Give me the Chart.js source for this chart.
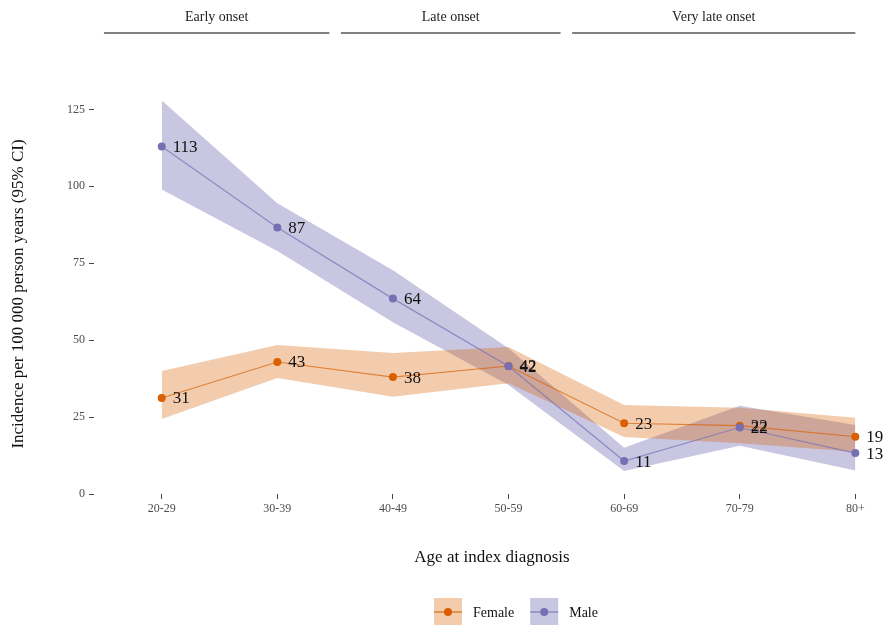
<!DOCTYPE html>
<html>
<head>
<meta charset="utf-8">
<script src="https://cdn.jsdelivr.net/npm/chart.js@4"></script>
<style>
  html, body { margin: 0; padding: 0; background: #fff; }
  #wrap { width: 894px; height: 625px; }
</style>
</head>
<body>
<div id="wrap"><canvas id="incidenceChart" width="894" height="625"></canvas></div>
<script>
// age groups on the x axis
const ageGroups = ['20-29', '30-39', '40-49', '50-59', '60-69', '70-79', '80+'];
const yTicks = [0, 25, 50, 75, 100, 125];

// incidence per 100 000 person years, with 95% CI
const femaleRate = [31.2, 42.9, 38.0, 41.6, 23.0, 22.2, 18.6];
const femaleLow  = [24.4, 37.7, 31.6, 36.0, 18.5, 16.5, 13.7];
const femaleHigh = [40.0, 48.4, 45.8, 47.8, 28.9, 28.0, 24.8];

const maleRate = [112.9, 86.6, 63.5, 41.5, 10.7, 21.6, 13.3];
const maleLow  = [99.0, 79.0, 55.8, 35.4, 7.5, 15.7, 7.6];
const maleHigh = [127.9, 94.5, 72.7, 47.4, 15.0, 28.7, 22.4];

// onset groups shown above the plot: label, first and last age group
const onsetGroups = ['Early onset', 'Late onset', 'Very late onset'];
const onsetFirst = [0, 2, 4];
const onsetLast = [1, 3, 6];

const ORANGE = '#D95F02';
const PURPLE = '#7570B3';
const ORANGE_BAND = 'rgba(217, 95, 2, 0.32)';
const PURPLE_BAND = 'rgba(117, 112, 179, 0.40)';
const SERIF = '"Liberation Serif", "DejaVu Serif", serif';

const toXY = arr => arr.map((v, i) => ({ x: i, y: v }));

function band(data, color, fillTo) {
  return {
    data: toXY(data),
    borderWidth: 0,
    pointRadius: 0,
    backgroundColor: color,
    fill: fillTo,
    order: 2
  };
}

// value labels next to the points, strip headings, legend
const extras = {
  id: 'extras',
  afterDatasetsDraw(chart) {
    const ctx = chart.ctx;
    ctx.save();
    ctx.font = '17px ' + SERIF;
    ctx.fillStyle = '#111';
    ctx.textAlign = 'left';
    ctx.textBaseline = 'middle';
    chart.data.datasets.forEach((ds, di) => {
      if (!ds.valueLabels) return;
      chart.getDatasetMeta(di).data.forEach((pt, i) => {
        ctx.fillText(String(Math.round(ds.data[i].y)), pt.x + 11, pt.y + 1);
      });
    });
    ctx.restore();
  },
  afterDraw(chart) {
    const ctx = chart.ctx;
    const xs = chart.scales.x;
    ctx.save();
    // strips
    onsetGroups.forEach((name, g) => {
      const x0 = xs.getPixelForValue(g === 0 ? onsetFirst[g] - 0.5 : onsetFirst[g] - 0.45);
      const x1 = xs.getPixelForValue(Math.min(onsetLast[g] + 0.45, ageGroups.length - 1));
      ctx.strokeStyle = '#555';
      ctx.lineWidth = 1.5;
      ctx.beginPath();
      ctx.moveTo(x0, 33);
      ctx.lineTo(x1, 33);
      ctx.stroke();
      ctx.fillStyle = '#222';
      ctx.font = '14px ' + SERIF;
      ctx.textAlign = 'center';
      ctx.textBaseline = 'middle';
      ctx.fillText(name, (x0 + x1) / 2, 17);
    });
    // legend
    const items = [
      { label: 'Female', color: ORANGE, fill: ORANGE_BAND },
      { label: 'Male', color: PURPLE, fill: PURPLE_BAND }
    ];
    let x = 434;
    const y = 612;
    ctx.font = '14px ' + SERIF;
    ctx.textAlign = 'left';
    ctx.textBaseline = 'middle';
    items.forEach(it => {
      ctx.fillStyle = it.fill;
      ctx.fillRect(x, y - 14, 28, 28);
      ctx.strokeStyle = it.color;
      ctx.globalAlpha = 0.7;
      ctx.lineWidth = 1.5;
      ctx.beginPath();
      ctx.moveTo(x, y);
      ctx.lineTo(x + 28, y);
      ctx.stroke();
      ctx.globalAlpha = 1;
      ctx.fillStyle = it.color;
      ctx.beginPath();
      ctx.arc(x + 14, y, 4, 0, Math.PI * 2);
      ctx.fill();
      ctx.fillStyle = '#111';
      ctx.fillText(it.label, x + 39, y + 1);
      x += 39 + ctx.measureText(it.label).width + 16;
    });
    ctx.restore();
  }
};

const ctx = document.getElementById('incidenceChart').getContext('2d');
new Chart(ctx, {
  type: 'line',
  data: {
    datasets: [
      {
        label: 'Female',
        data: toXY(femaleRate),
        borderColor: 'rgba(217, 95, 2, 0.7)',
        borderWidth: 1.2,
        pointRadius: 4,
        pointBackgroundColor: ORANGE,
        pointBorderWidth: 0,
        fill: false,
        valueLabels: true,
        order: 1
      },
      {
        label: 'Male',
        data: toXY(maleRate),
        borderColor: 'rgba(117, 112, 179, 0.7)',
        borderWidth: 1.2,
        pointRadius: 4,
        pointBackgroundColor: PURPLE,
        pointBorderWidth: 0,
        fill: false,
        valueLabels: true,
        order: 0
      },
      band(femaleLow, 'transparent', false),
      band(femaleHigh, ORANGE_BAND, '-1'),
      band(maleLow, 'transparent', false),
      band(maleHigh, PURPLE_BAND, '-1')
    ]
  },
  options: {
    responsive: false,
    animation: false,
    layout: { padding: { top: 94, right: 1, bottom: 50, left: 0 } },
    plugins: {
      legend: { display: false },
      tooltip: { enabled: false }
    },
    scales: {
      x: {
        type: 'linear',
        min: -0.586,
        max: 6.30,
        afterBuildTicks: s => { s.ticks = ageGroups.map((a, i) => ({ value: i })); },
        afterFit: s => { s.height = 81; },
        grid: { drawOnChartArea: false, drawTicks: true, tickLength: 5, color: '#444', tickWidth: 1 },
        border: { display: false },
        ticks: {
          callback: v => ageGroups[v],
          color: '#4d4d4d',
          font: { family: SERIF, size: 12 },
          padding: 3,
          maxRotation: 0
        },
        title: {
          display: true,
          text: 'Age at index diagnosis',
          color: '#111',
          font: { family: SERIF, size: 17 },
          padding: { top: 0, bottom: 7 }
        }
      },
      y: {
        min: 0,
        max: 130,
        afterBuildTicks: s => { s.ticks = yTicks.map(v => ({ value: v })); },
        afterFit: s => { s.width = 94; },
        grid: { drawOnChartArea: false, drawTicks: true, tickLength: 5, color: '#444', tickWidth: 1 },
        border: { display: false },
        ticks: {
          color: '#4d4d4d',
          font: { family: SERIF, size: 12 },
          padding: 4
        },
        title: {
          display: true,
          text: 'Incidence per 100 000 person years (95% CI)',
          color: '#111',
          font: { family: SERIF, size: 17 },
          padding: { top: 8, bottom: 0 }
        }
      }
    }
  },
  plugins: [extras]
});
</script>
</body>
</html>
